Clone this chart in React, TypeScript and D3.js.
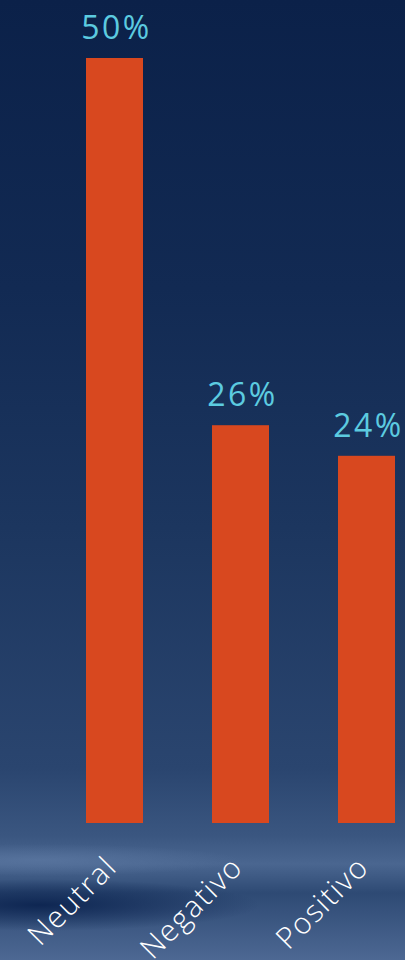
import React from "react";
import * as d3 from "d3";

const categories = ["Neutral", "Negativo", "Positivo"];
const values = [50, 26, 24];
const valueLabels = ["50%", "26%", "24%"];

const W = 405;
const H = 960;

export default function App() {
  const x = d3.scaleBand<string>().domain(categories).range([86, 395]).paddingInner(0.5476).paddingOuter(0);
  const y = d3.scaleLinear().domain([0, 50]).range([823, 58]);
  const bw = x.bandwidth();

  return (
    <svg
      width={W}
      height={H}
      viewBox={`0 0 ${W} ${H}`}
      style={{ position: "fixed", top: 0, left: 0, display: "block" }}
    >
      <defs>
        <linearGradient id="bg" x1="0" y1="0" x2="0" y2="1">
          <stop offset="0" stopColor="#0b2149" />
          <stop offset="0.3" stopColor="#122a53" />
          <stop offset="0.55" stopColor="#1c365f" />
          <stop offset="0.8" stopColor="#2a456f" />
          <stop offset="0.87" stopColor="#3a5680" />
          <stop offset="0.9" stopColor="#4a6690" />
          <stop offset="0.93" stopColor="#2e4a74" />
          <stop offset="1" stopColor="#4d6893" />
        </linearGradient>
        <radialGradient id="streak" cx="0.5" cy="0.5" r="0.5">
          <stop offset="0" stopColor="#0c2450" stopOpacity="0.95" />
          <stop offset="1" stopColor="#0c2450" stopOpacity="0" />
        </radialGradient>
        <radialGradient id="light" cx="0.5" cy="0.5" r="0.5">
          <stop offset="0" stopColor="#5a76a0" stopOpacity="0.8" />
          <stop offset="1" stopColor="#5a76a0" stopOpacity="0" />
        </radialGradient>
      </defs>
      <rect x={0} y={0} width={W} height={H} fill="url(#bg)" />
      <ellipse cx={40} cy={860} rx={200} ry={16} fill="url(#light)" />
      <ellipse cx={40} cy={905} rx={220} ry={26} fill="url(#streak)" />
      {categories.map((c, i) => (
        <rect
          key={c}
          x={x(c)}
          y={y(values[i])}
          width={bw}
          height={y(0) - y(values[i])}
          fill="#d8481f"
        />
      ))}
      {categories.map((c, i) => (
        <text
          key={"v" + c}
          x={(x(c) as number) + bw / 2 + 2}
          y={y(values[i]) - 19}
          textAnchor="middle"
          fill="#5ccbe0"
          fontFamily="'Open Sans', sans-serif"
          fontWeight={400}
          fontSize={32}
          letterSpacing={2.5}
        >
          {valueLabels[i]}
        </text>
      ))}
      {categories.map((c) => {
        const cx = (x(c) as number) + bw / 2 + 4;
        const cy = y(0) + 46;
        return (
          <text
            key={"t" + c}
            transform={`translate(${cx},${cy}) rotate(-45)`}
            textAnchor="end"
            fill="#ffffff"
            fontFamily="'Open Sans', sans-serif"
            fontWeight={300}
            fontSize={30}
            letterSpacing={1.5}
          >
            {c}
          </text>
        );
      })}
    </svg>
  );
}
